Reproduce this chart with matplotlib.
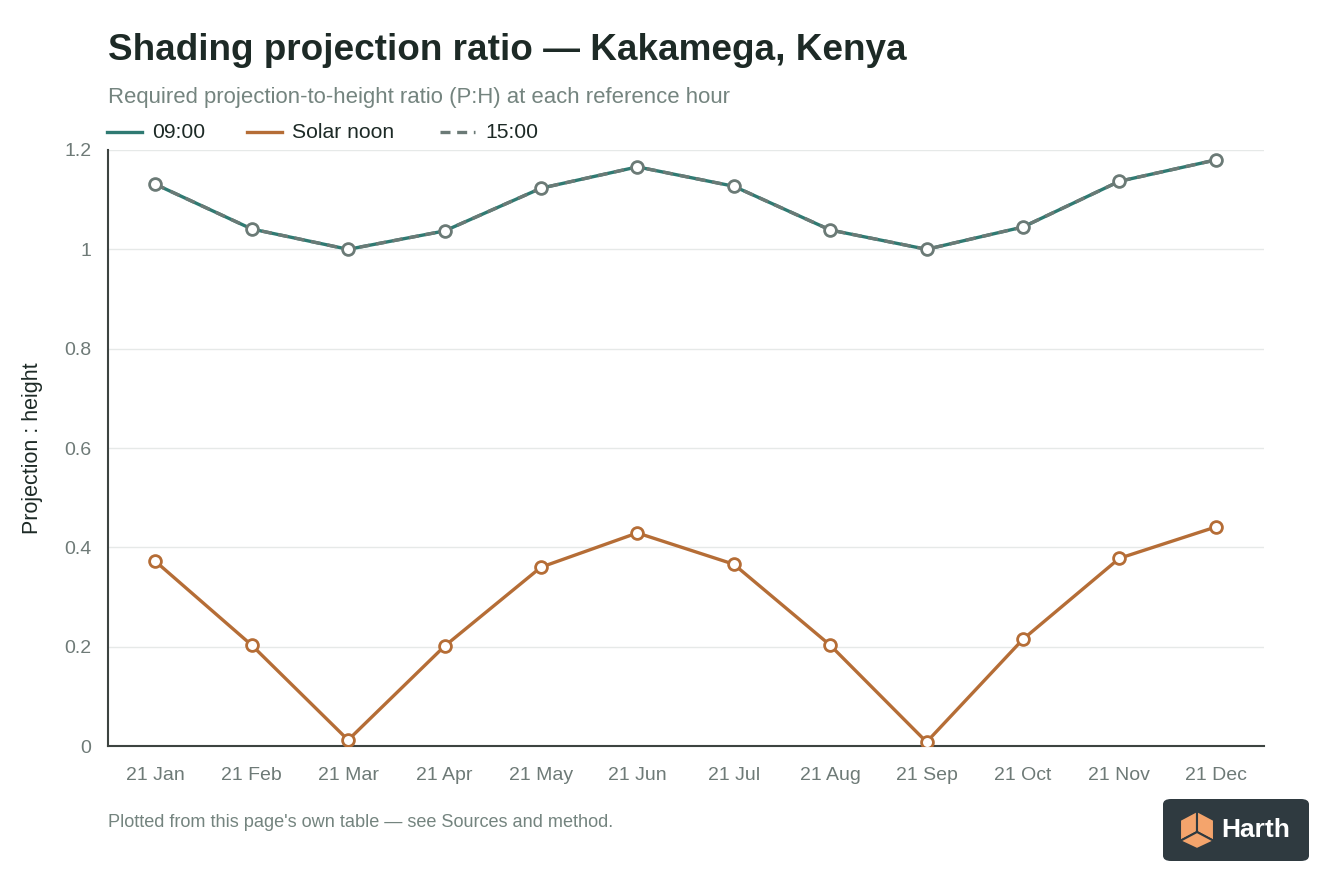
import matplotlib
matplotlib.use("Agg")
import matplotlib.pyplot as plt
from matplotlib.patches import FancyBboxPatch, Polygon

plt.rcParams['font.family'] = ['Liberation Sans', 'DejaVu Sans']

months = ["21 Jan", "21 Feb", "21 Mar", "21 Apr", "21 May", "21 Jun",
          "21 Jul", "21 Aug", "21 Sep", "21 Oct", "21 Nov", "21 Dec"]
ratio_0900 = [1.131, 1.041, 1.000, 1.037, 1.123, 1.166, 1.127, 1.039, 1.000, 1.045, 1.137, 1.180]
ratio_noon = [0.372, 0.203, 0.012, 0.201, 0.360, 0.429, 0.366, 0.203, 0.008, 0.215, 0.378, 0.441]
ratio_1500 = [1.131, 1.041, 1.000, 1.037, 1.123, 1.166, 1.127, 1.039, 1.000, 1.045, 1.137, 1.180]
yticks = [0, 0.2, 0.4, 0.6, 0.8, 1, 1.2]
ytick_labels = ["0", "0.2", "0.4", "0.6", "0.8", "1", "1.2"]

teal = "#2f7a72"
orange = "#b56d36"
grey = "#6b7a76"
tick_grey = "#6e7a77"
dark = "#1d2a26"

fig = plt.figure(figsize=(13.44, 8.96), dpi=100)
ax = fig.add_axes([0.0804, 0.1674, 0.8601, 0.6652])
x = list(range(len(months)))

ax.plot(x, ratio_0900, color=teal, lw=2.4, zorder=3)
ax.plot(x, ratio_1500, color=grey, lw=2.4, ls=(0, (3, 2)), zorder=4)
ax.plot(x, ratio_1500, ls="none", marker="o", ms=8.5, mfc="white", mec=grey, mew=2, zorder=5)
ax.plot(x, ratio_noon, color=orange, lw=2.4, marker="o", ms=8.5, mfc="white", mec=orange, mew=2, zorder=5)

ax.set_xlim(-0.49, 11.5)
ax.set_ylim(0, 1.2)
ax.set_xticks(x)
ax.set_xticklabels(months)
ax.set_yticks(yticks)
ax.set_yticklabels(ytick_labels)
ax.tick_params(length=0, labelsize=14, colors=tick_grey, pad=12)
ax.tick_params(axis="x", pad=15)
ax.grid(axis="y", color="#e6e9e8", lw=1)
ax.set_axisbelow(True)
for s in ["top", "right"]:
    ax.spines[s].set_visible(False)
for s in ["left", "bottom"]:
    ax.spines[s].set_color("#3d4441")
    ax.spines[s].set_linewidth(1.5)
ax.set_ylabel("Projection : height", fontsize=15.5, color=dark, labelpad=15)

fig.text(108 / 1344, 1 - 51 / 896, "Shading projection ratio \u2014 Kakamega, Kenya",
         fontsize=26.6, fontweight="bold", color=dark, va="center")
fig.text(108 / 1344, 1 - 97 / 896, "Required projection-to-height ratio (P:H) at each reference hour",
         fontsize=15.9, color="#74847f", va="center")

# legend drawn by hand in figure coords
leg_y = 1 - 132 / 896
items = [(107, teal, "-", "09:00"), (247, orange, "-", "Solar noon"), (440, grey, (0, (3, 2)), "15:00")]
for px, col, ls, lab in items:
    fig.add_artist(plt.Line2D([px / 1344, (px + 35) / 1344], [leg_y, leg_y], color=col, lw=2.4, ls=ls))
    fig.text((px + 45) / 1344, leg_y, lab, fontsize=15.2, color=dark, va="center")

fig.text(108 / 1344, 1 - 822 / 896, "Plotted from this page's own table \u2014 see Sources and method.",
         fontsize=13.1, color="#74847f", va="center")

# logo badge
badge = FancyBboxPatch((1163 / 1344, 1 - 861 / 896), 146 / 1344, 62 / 896,
                       boxstyle="round,pad=0,rounding_size=0.006", transform=fig.transFigure,
                       facecolor="#2f3a40", edgecolor="none")
fig.add_artist(badge)
cx, cy = 1197 / 1344, 1 - 830 / 896
sx, sy = 1 / 1344, 1 / 896
cube_l = [(cx - 17 * sx, cy + 10 * sy), (cx, cy + 19 * sy), (cx, cy - 2 * sy), (cx - 17 * sx, cy - 11 * sy)]
cube_r = [(cx, cy + 19 * sy), (cx + 17 * sx, cy + 10 * sy), (cx + 17 * sx, cy - 11 * sy), (cx, cy - 2 * sy)]
cube_b = [(cx - 17 * sx, cy - 11 * sy), (cx, cy - 2 * sy), (cx + 17 * sx, cy - 11 * sy), (cx, cy - 19 * sy)]
for poly in (cube_l, cube_r, cube_b):
    fig.add_artist(Polygon(poly, closed=True, transform=fig.transFigure,
                           facecolor="#f4a46c", edgecolor="#2f3a40", lw=1.5))
fig.text(1221 / 1344, cy, "Harth", fontsize=19, fontweight="bold", color="white", va="center")

fig.savefig("out.png", dpi=100, facecolor="white")
